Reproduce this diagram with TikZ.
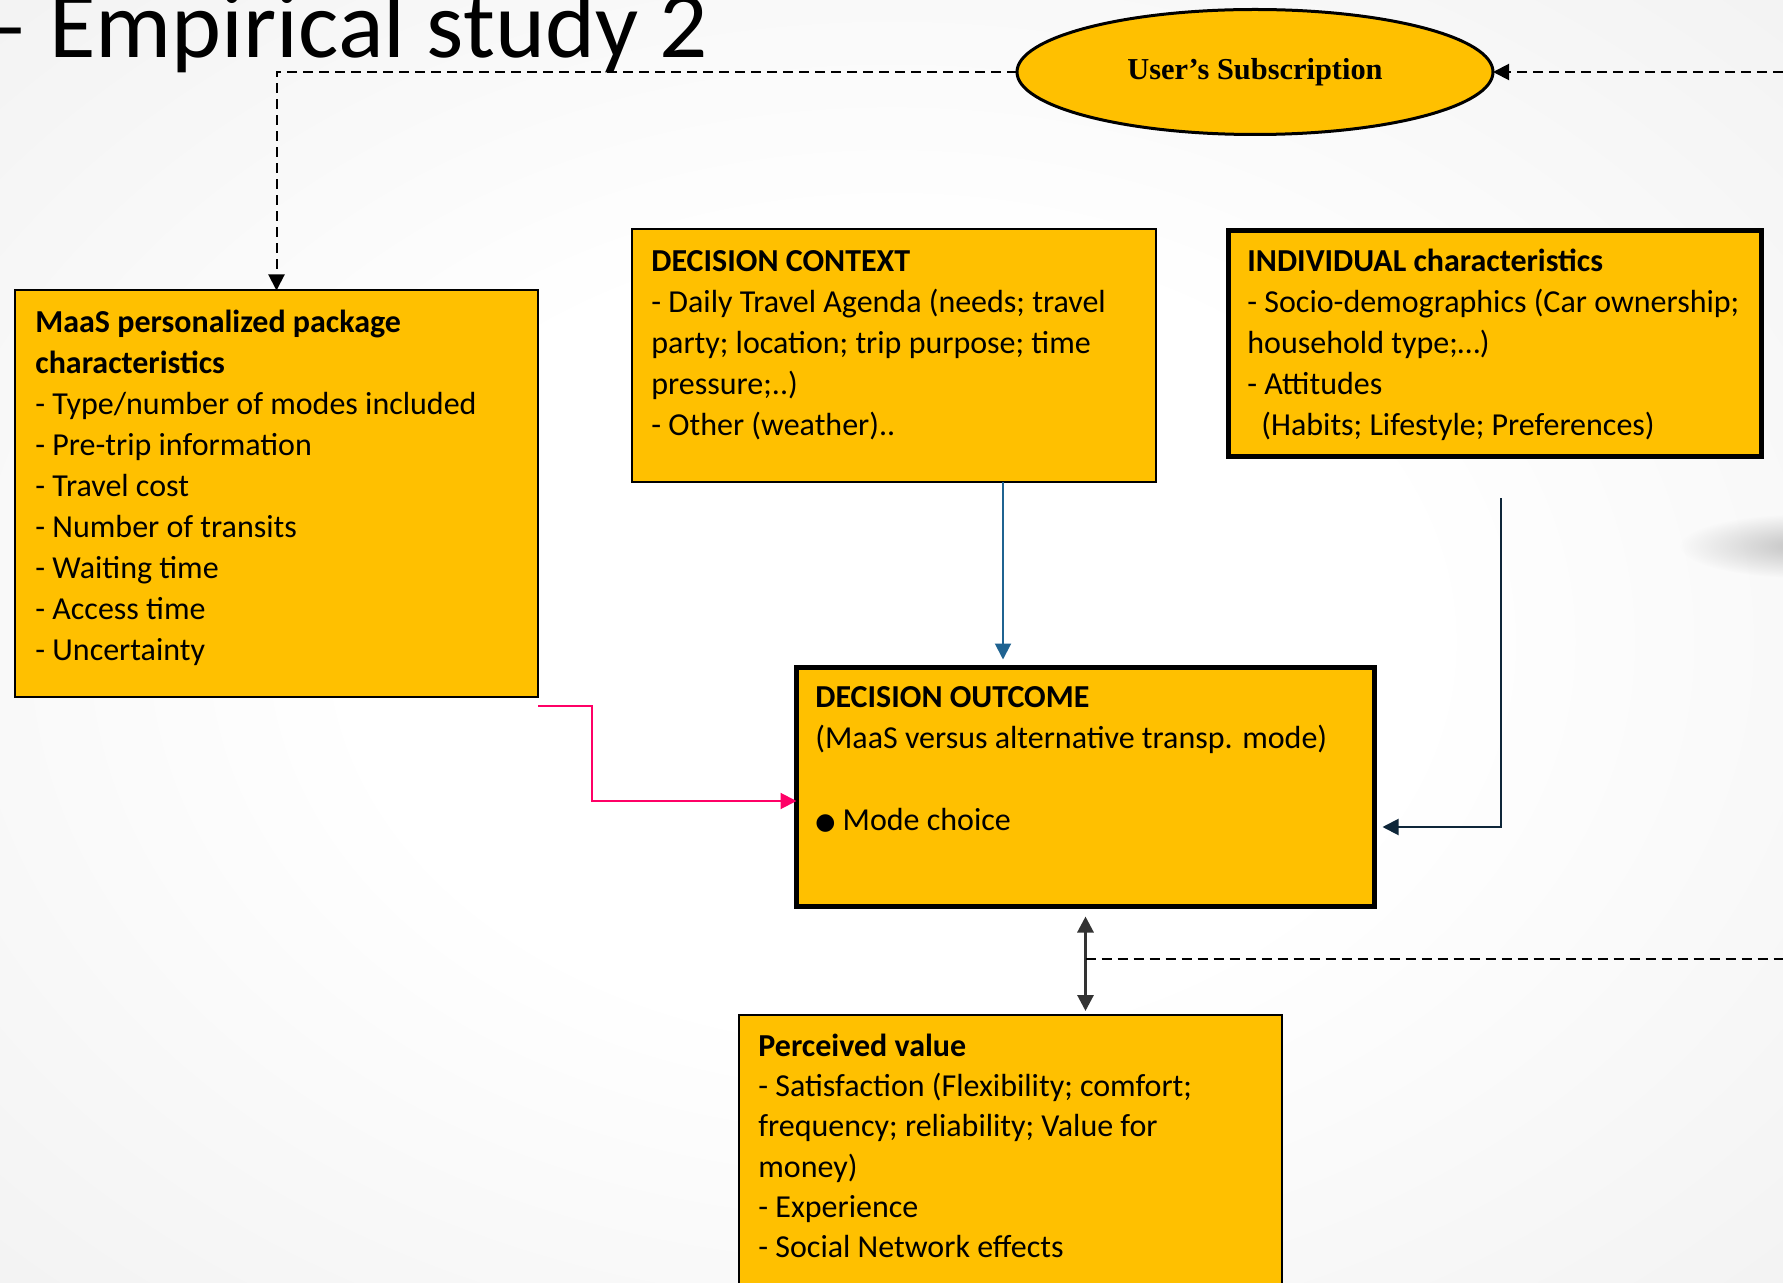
\documentclass[tikz,border=0pt]{standalone}
\usepackage{fontspec}
\setmainfont{Carlito}
\newfontfamily\subfont{Liberation Serif}
\newfontfamily\symfont{DejaVu Sans}
\usetikzlibrary{arrows.meta,shapes.geometric,calc,fadings}
\definecolor{gold}{HTML}{FFC000}
\definecolor{bgout}{HTML}{EAEAEA}
\definecolor{pinkline}{HTML}{FF0066}
\definecolor{blueline}{HTML}{1F6391}
\definecolor{navyline}{HTML}{0E2639}
\definecolor{arrowgray}{HTML}{333333}
\pgfdeclareradialshading{bgshade}{\pgfpoint{0bp}{0bp}}{color(0bp)=(white); color(15bp)=(white); color(50bp)=(bgout); color(80bp)=(bgout)}
\tikzfading[name=smudgefade, inner color=transparent!0, outer color=transparent!100]
\newcommand\firstline{\rule{0pt}{14pt}}
\begin{document}
\begin{tikzpicture}[x=0.5pt,y=-0.5pt,
  box/.style={draw=black, fill=gold, line width=1pt, inner sep=0pt, outer sep=0pt, anchor=north west, rectangle},
  thickbox/.style={box, line width=2.5pt},
  txt/.style={anchor=north west, inner sep=0pt, align=left, font=\fontsize{16}{20.5}\selectfont},
  dashline/.style={line width=1pt, dash pattern=on 5pt off 3pt},
  tip/.style={-{Triangle[length=8pt,width=8pt]}},
]
\useasboundingbox (0,0) rectangle (1783,1283);
\shade[shading=bgshade] (0,0) rectangle (1783,1283);
\fill[black!24, path fading=smudgefade] (1805,546) ellipse [x radius=125, y radius=32];

% title
\node[anchor=base west, inner sep=0pt, font=\fontsize{47.6}{52}\selectfont] (title) at (-20,58) {– Empirical study 2};

% ellipse
\node[ellipse, draw=black, fill=gold, line width=1.5pt, minimum width=238pt, minimum height=62.5pt, inner sep=0pt, outer sep=0pt,
  font=\subfont\bfseries\fontsize{15.2}{18}\selectfont] (sub) at (1255,72) {User’s Subscription};

% boxes
\node[box, minimum width=261.5pt, minimum height=203pt] (maas) at (15,290.5) {};
\node[box, minimum width=262pt, minimum height=126.5pt] (dc) at (631.5,229.5) {};
\node[thickbox, minimum width=266.5pt, minimum height=113pt] (ind) at (1228.5,231) {};
\node[thickbox, minimum width=289pt, minimum height=119.5pt] (do) at (796.5,667.5) {};
\node[box, minimum width=271.5pt, minimum height=160pt] (pv) at (739,1015) {};

% texts
\node[txt] (maastxt) at (35,304) {\firstline\textbf{MaaS personalized package}\\
\textbf{characteristics}\\
- Type/number of modes included\\
- Pre-trip information\\
- Travel cost\\
- Number of transits\\
- Waiting time\\
- Access time\\
- Uncertainty};

\node[txt] (dctxt) at (651,243) {\firstline\textbf{DECISION CONTEXT}\\
- Daily Travel Agenda (needs; travel\\
party; location; trip purpose; time\\
pressure;..)\\
- Other (weather)..};

\node[txt] (indtxt) at (1247,243) {\firstline\textbf{INDIVIDUAL characteristics}\\
- Socio-demographics (Car ownership;\\
household type;…)\\
- Attitudes\\
\hspace*{7pt}(Habits; Lifestyle; Preferences)};

\node[txt] (dotxt) at (815,679) {\firstline\textbf{DECISION OUTCOME}\\
(MaaS versus alternative transp. mode)\\[20.5pt]
\raisebox{0.5pt}{\symfont\fontsize{11.5}{11.5}\selectfont ●}\ Mode choice};

\node[txt, font=\fontsize{16}{20.1}\selectfont] (pvtxt) at (758,1028) {\firstline\textbf{Perceived value}\\
- Satisfaction (Flexibility; comfort;\\
frequency; reliability; Value for\\
money)\\
- Experience\\
- Social Network effects};

% connectors
\coordinate (rdash) at (1783,72);
\draw[dashline, tip] (rdash) -- (sub.east);
\draw[dashline, tip] (sub.west) -| (maas.north);

\coordinate (bluex) at (1003,0);
\draw[blueline, line width=1pt, tip, shorten >=4pt] (dc.south -| bluex) -- (do.north -| bluex);

\coordinate (navystart) at (1501,498);
\draw[navyline, line width=1pt, tip, shorten >=4pt] (navystart) |- ([yshift=-20pt]do.east);

\coordinate (pinkstart) at (538,706);
\draw[pinkline, line width=1pt, tip] (pinkstart) -- ++(54,0) |- ([yshift=-7pt]do.west);

\draw[arrowgray, line width=1.5pt, {Triangle[length=8pt,width=8pt]}-{Triangle[length=8pt,width=8pt]}, shorten <=5pt, shorten >=2pt] (do.south) -- (do.south |- pv.north);

\coordinate (rdash2) at (1783,959);
\draw[dashline] (do.south |- rdash2) -- (rdash2);
\end{tikzpicture}
\end{document}
